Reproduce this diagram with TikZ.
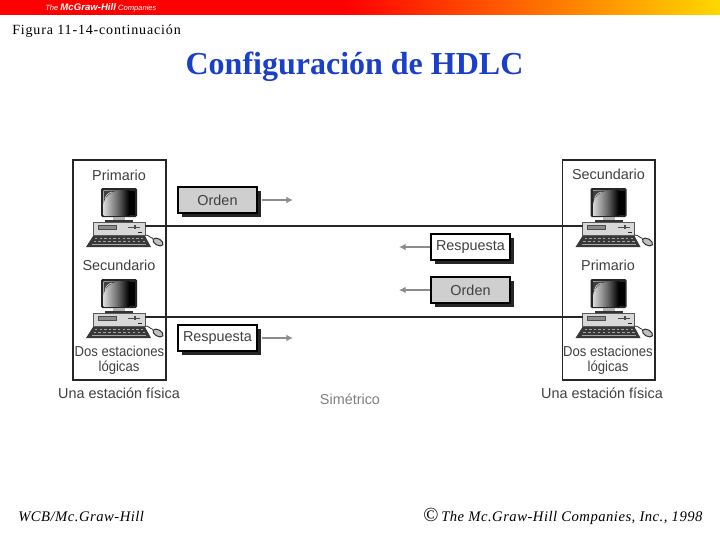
\documentclass[tikz,border=0pt]{standalone}
\usepackage{fontspec}
\setmainfont{Liberation Serif}
\setsansfont{Liberation Sans}
\newfontfamily\spacedserif[LetterSpace=6]{Liberation Serif}
\newfontfamily\footserif[LetterSpace=3.3]{Liberation Serif}
\usetikzlibrary{arrows.meta}
\definecolor{titleblue}{HTML}{1A3FC8}
\definecolor{labelgray}{HTML}{404040}
\definecolor{arrowgray}{HTML}{8C8C8C}
\definecolor{boxgray}{HTML}{CFCFCF}
\definecolor{casegray}{HTML}{D8D8D8}
\definecolor{barred}{HTML}{FF0000}
\definecolor{baryellow}{HTML}{FFD800}
\tikzset{
  lbl/.style={font=\sffamily\fontsize{10.8}{12}\selectfont,text=labelgray,inner sep=0pt},
  station/.style={draw=black!85,line width=0.85pt,fill=none},
  msgbox/.style={draw=black,line width=0.8pt,inner sep=0pt,
     font=\sffamily\fontsize{10.8}{12}\selectfont,text=labelgray},
  msgshadow/.style={fill=black!85,draw=none},
  flow/.style={draw=arrowgray,line width=0.9pt,-{Latex[length=5pt,width=5pt]}},
  link/.style={draw=black!85,line width=1pt},
  caseb/.style={draw=black!65,fill=casegray,line width=0.5pt},
}
\newcommand{\pcunit}[3]{%
  \begin{scope}[shift={(#2,#3)}]
    % monitor
    \fill[black!85,rounded corners=1pt] (101,188) rectangle (137,217);
    \shade[left color=white!85!black,right color=black!60] (103.5,190.5) rectangle (118,215);
    \shade[left color=black!60,right color=black] (118,190.5) rectangle (129,215);
    \fill[black] (129,190.5) rectangle (135,215);
    \fill[black!75] (103.5,190.5) -- (118,190.5) .. controls (110,192) and (105,196) .. (103.5,204) -- cycle;
    \draw[white!85!black,line width=0.5pt] (105,199) .. controls (106,195) and (108,193) .. (112,192);
    % stand
    \fill[black!30] (113,217) rectangle (125,219.5);
    \fill[black!80] (105,219.5) rectangle (133,222);
    % case
    \draw[caseb] (93,222) rectangle (145,235);
    \fill[black!45] (98,225) rectangle (116,229);
    \draw[black!70,line width=0.3pt] (98,225) rectangle (116,229);
    \draw[black!70,line width=0.7pt] (128,227) -- (140,227);
    \fill[black!70] (134,225) rectangle (136,229);
    \fill[black!85] (138,231.5) rectangle (142,233);
    % keyboard
    \fill[black!78] (93,236) -- (145,236) -- (151,247) -- (86,247) -- cycle;
    \foreach \kx in {0,1,...,10}{
      \fill[black!35] ({95+\kx*4.6},238) rectangle ++(2.4,1.2);
      \fill[black!35] ({93.5+\kx*4.9},241) rectangle ++(2.6,1.2);
    }
    \draw[black!35,line width=0.5pt] (92,244.5) -- (146,244.5);
    % mouse
    \draw[black!80,line width=0.6pt] (145,235) .. controls (149,235) and (149,237) .. (153,238.5);
    \draw[black!85,fill=white!75!black,line width=0.7pt,rotate around={-30:(158,242)}] (158,242) ellipse (4.2pt and 2.4pt);
    \coordinate (#1l) at (93,226);
    \coordinate (#1r) at (145,226);
  \end{scope}}
\newcommand{\msgnode}[5]{%
  \fill[msgshadow] (#2+3.5,#3-13+3.5) rectangle (#2+82.5,#3+13+4);
  \node[msgbox,fill=#5,anchor=center,minimum width=59.25pt,minimum height=19.5pt] (#1) at (#2+39.5,#3) {#4};}
\begin{document}
\begin{tikzpicture}[x=0.75pt,y=-0.75pt]
\useasboundingbox (0,0) rectangle (720,540);
\fill[white] (0,0) rectangle (720,540);
% header bar
\fill[barred] (0,0) rectangle (345,14.5);
\shade[left color=barred,right color=baryellow] (345,0) rectangle (720,14.5);
\node[inner sep=0pt,anchor=west,text=white] (logo) at (45,8) {\sffamily\itshape\fontsize{5.7}{7}\selectfont The {\bfseries\fontsize{7.2}{8}\selectfont McGraw-Hill} Companies};
% headings
\node[inner sep=0pt,anchor=west] (fig) at (12,31) {\spacedserif\fontsize{10.5}{12}\selectfont Figura 11-14-continuación};
\node[inner sep=0pt,anchor=center,text=titleblue] (title) at (354.5,67) {\bfseries\fontsize{24}{28}\selectfont Configuración de HDLC};
% stations
\draw[station] (73,160) rectangle (166,380);
\draw[station] (562.7,160) rectangle (655,380);
% computers
\pcunit{pa}{0}{0}
\pcunit{pb}{0}{91}
\pcunit{pc}{489.5}{0}
\pcunit{pd}{489.5}{91}
\draw[link] (par) -- (pcl);
\draw[link] (pbr) -- (pdl);
% station labels
\node[lbl] (t1) at (119,175) {Primario};
\node[lbl] (t2) at (119,265) {Secundario};
\node[lbl] (t3) at (119.5,351.5) {\scalebox{0.91}[1]{Dos estaciones}};
\node[lbl] (t4) at (119,368) {\scalebox{0.91}[1]{lógicas}};
\node[lbl] (t5) at (119,393) {Una estación física};
\node[lbl] (t6) at (608.5,174) {Secundario};
\node[lbl] (t7) at (608,265) {Primario};
\node[lbl] (t8) at (608,351.5) {\scalebox{0.91}[1]{Dos estaciones}};
\node[lbl] (t9) at (608,368) {\scalebox{0.91}[1]{lógicas}};
\node[lbl] (t10) at (602,393) {Una estación física};
\node[lbl,text=black!50] (t11) at (350,399) {Simétrico};
% messages
\msgnode{m1}{178}{200}{Orden}{boxgray}
\msgnode{m2}{178}{338}{Respuesta}{white}
\msgnode{m3}{431}{247}{Respuesta}{white}
\msgnode{m4}{431}{290}{Orden}{boxgray}
\coordinate (e1) at (293,200);
\coordinate (e2) at (293,338);
\coordinate (e3) at (399,247);
\coordinate (e4) at (399,290);
\draw[flow] (m1.east) ++(4,0) -- (e1);
\draw[flow] (m2.east) ++(4,0) -- (e2);
\draw[flow] (m3.west) -- (e3);
\draw[flow] (m4.west) -- (e4);
% footer
\node[inner sep=0pt,anchor=west] (f1) at (18,517) {\footserif\itshape\fontsize{11}{12}\selectfont WCB/Mc.Graw-Hill};
\node[inner sep=0pt,anchor=center,font=\fontsize{15}{15}\selectfont] (f2) at (431,515) {©};
\node[inner sep=0pt,anchor=west] (f3) at (441,518) {\footserif\itshape\fontsize{11}{12}\selectfont The Mc.Graw-Hill Companies, Inc., 1998};
\end{tikzpicture}
\end{document}
